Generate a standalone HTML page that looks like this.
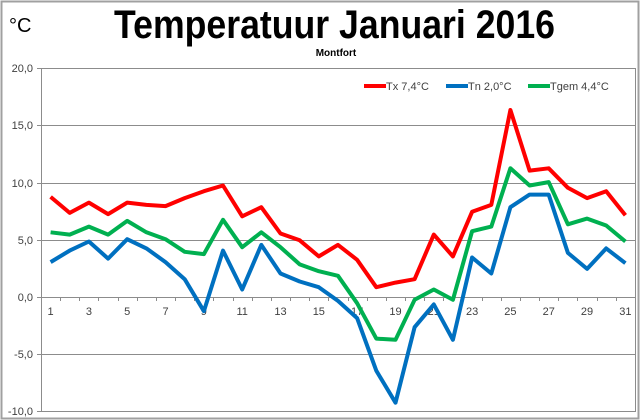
<!DOCTYPE html>
<html><head><meta charset="utf-8"><style>html,body{margin:0;padding:0;background:#fff}svg{display:block}</style></head>
<body>
<svg width="640" height="420" viewBox="0 0 640 420" xmlns="http://www.w3.org/2000/svg" font-family="Liberation Sans, Arial, sans-serif">
<rect x="0" y="0" width="640" height="420" fill="#fff"/>
<rect x="1.5" y="1.5" width="637" height="417" fill="none" stroke="#a0a0a0" stroke-width="2"/>
<text x="9" y="32" font-size="20" fill="#000">°C</text>
<text x="114" y="38" font-size="40" font-weight="bold" textLength="441" lengthAdjust="spacingAndGlyphs">Temperatuur Januari 2016</text>
<text x="336" y="56" font-size="10" font-weight="bold" text-anchor="middle">Montfort</text>
<g stroke="#8c8c8c" stroke-width="1">
<line x1="41" y1="68.5" x2="635" y2="68.5"/>
<line x1="41" y1="125.5" x2="635" y2="125.5"/>
<line x1="41" y1="183.5" x2="635" y2="183.5"/>
<line x1="41" y1="240.5" x2="635" y2="240.5"/>
<line x1="41" y1="297.5" x2="635" y2="297.5"/>
<line x1="41" y1="354.5" x2="635" y2="354.5"/>
<line x1="41" y1="411.5" x2="635" y2="411.5"/>
<line x1="41.5" y1="68" x2="41.5" y2="412"/>
<line x1="635.5" y1="68" x2="635.5" y2="412"/>
<line x1="37" y1="68.5" x2="41" y2="68.5"/><line x1="37" y1="125.5" x2="41" y2="125.5"/><line x1="37" y1="183.5" x2="41" y2="183.5"/><line x1="37" y1="240.5" x2="41" y2="240.5"/><line x1="37" y1="297.5" x2="41" y2="297.5"/><line x1="37" y1="354.5" x2="41" y2="354.5"/><line x1="37" y1="411.5" x2="41" y2="411.5"/>
</g>
<g id="ticks" stroke="#8c8c8c"></g>
<g font-size="11" fill="#404040" text-anchor="end">
<text x="33" y="72">20,0</text><text x="33" y="129">15,0</text><text x="33" y="187">10,0</text><text x="33" y="244">5,0</text><text x="33" y="301">0,0</text><text x="33" y="358">-5,0</text><text x="33" y="415">-10,0</text>
</g>
<g id="xl" font-size="11" fill="#404040" text-anchor="middle"></g>
<g id="series" fill="none" stroke-width="4" stroke-linejoin="round"></g>
<g font-size="11" fill="#404040">
<line x1="364" y1="86" x2="386" y2="86" stroke="#ff0000" stroke-width="4"/><text x="386" y="90">Tx 7,4°C</text>
<line x1="446" y1="86" x2="468" y2="86" stroke="#0070c0" stroke-width="4"/><text x="468" y="90">Tn 2,0°C</text>
<line x1="528" y1="86" x2="550" y2="86" stroke="#00b050" stroke-width="4"/><text x="550" y="90">Tgem 4,4°C</text>
</g>
<script>
var ns="http://www.w3.org/2000/svg";
function X(d){return 41+(d-0.5)*19.16;}
function Y(v){return 297.5-v*11.43;}
var tk=document.getElementById("ticks"),xl=document.getElementById("xl");
for(var i=0;i<=31;i++){var l=document.createElementNS(ns,"line");var x=Math.round(41+i*19.16)+0.5;l.setAttribute("x1",x);l.setAttribute("x2",x);l.setAttribute("y1",297);l.setAttribute("y2",301);tk.appendChild(l);}
for(var d=1;d<=31;d+=2){var t=document.createElementNS(ns,"text");t.setAttribute("x",X(d));t.setAttribute("y",315);t.textContent=d;xl.appendChild(t);}
var tx=[8.8,7.4,8.3,7.3,8.3,8.1,8.0,8.7,9.3,9.8,7.1,7.9,5.6,5.0,3.6,4.6,3.3,0.9,1.3,1.6,5.5,3.6,7.5,8.1,16.4,11.1,11.3,9.6,8.7,9.3,7.2];
var tn=[3.1,4.1,4.9,3.4,5.1,4.3,3.1,1.6,-1.2,4.1,0.7,4.6,2.1,1.4,0.9,-0.3,-1.8,-6.4,-9.2,-2.6,-0.6,-3.7,3.5,2.1,7.9,9.0,9.0,3.9,2.5,4.3,3.0];
var tg=[5.7,5.5,6.2,5.5,6.7,5.7,5.1,4.0,3.8,6.8,4.4,5.7,4.4,2.9,2.3,1.9,-0.5,-3.6,-3.7,-0.2,0.7,-0.2,5.8,6.2,11.3,9.8,10.1,6.4,6.9,6.3,4.9];
var s=document.getElementById("series");
[[tx,"#ff0000"],[tn,"#0070c0"],[tg,"#00b050"]].forEach(function(p){var pts=p[0].map(function(v,i){return X(i+1).toFixed(1)+","+Y(v).toFixed(1)}).join(" ");var pl=document.createElementNS(ns,"polyline");pl.setAttribute("points",pts);pl.setAttribute("stroke",p[1]);s.appendChild(pl);});
</script>
</svg>
</body></html>
